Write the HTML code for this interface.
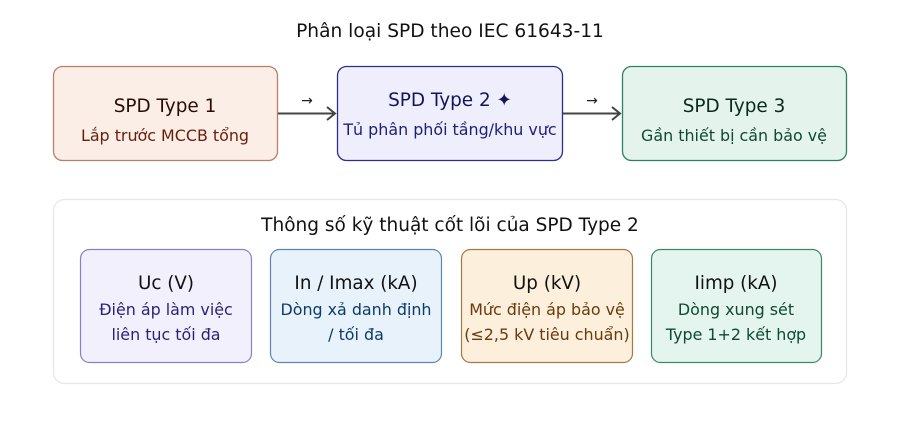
<!DOCTYPE html>
<html><head><meta charset="utf-8"><style>
html,body{margin:0;padding:0;background:#fff;}
svg{display:block;font-family:"DejaVu Sans","Liberation Sans",sans-serif;}
</style></head><body>
<svg width="900" height="424" viewBox="0 0 900 424" xmlns="http://www.w3.org/2000/svg">
<text x="450" y="37" text-anchor="middle" font-size="18.6" fill="#111">Phân loại SPD theo IEC 61643-11</text>

<rect x="53.5" y="66.5" width="224" height="94" rx="9" fill="#fbeee6" stroke="#b8806a" stroke-width="1.3"/>
<text x="165" y="112" text-anchor="middle" font-size="18.4" fill="#2a0e06">SPD Type 1</text>
<text x="165" y="141" text-anchor="middle" font-size="15.9" fill="#6a1e0a">Lắp trước MCCB tổng</text>

<rect x="337.5" y="66.5" width="225" height="94" rx="9" fill="#eeeefc" stroke="#2e2e88" stroke-width="1.3"/>
<text x="450" y="106" text-anchor="middle" font-size="18.4" fill="#14145a">SPD Type 2 ✦</text>
<text x="450" y="135" text-anchor="middle" font-size="15.9" fill="#1e1e7a">Tủ phân phối tầng/khu vực</text>

<rect x="622.5" y="66.5" width="224" height="94" rx="9" fill="#e4f4ec" stroke="#2e8060" stroke-width="1.3"/>
<text x="734" y="112" text-anchor="middle" font-size="18.4" fill="#0a2a1c">SPD Type 3</text>
<text x="734" y="141" text-anchor="middle" font-size="15.9" fill="#0d4a30">Gần thiết bị cần bảo vệ</text>

<g stroke="#444" stroke-width="2" fill="none">
<line x1="278" y1="113.5" x2="335" y2="113.5"/><polyline points="327,107 335,113.5 327,120"/>
<line x1="563" y1="113.5" x2="620" y2="113.5"/><polyline points="612,107 620,113.5 612,120"/>
</g>
<text x="307" y="105" text-anchor="middle" font-size="14" fill="#222">→</text>
<text x="592" y="105" text-anchor="middle" font-size="14" fill="#222">→</text>

<rect x="53.5" y="199.5" width="793" height="184" rx="11" fill="#fff" stroke="#e6e6e6" stroke-width="1.2"/>
<text x="450" y="231" text-anchor="middle" font-size="18.5" fill="#111">Thông số kỹ thuật cốt lõi của SPD Type 2</text>

<rect x="80.5" y="249.5" width="171" height="113" rx="9" fill="#f1f0fc" stroke="#8a80c8" stroke-width="1.2"/>
<text x="166" y="289" text-anchor="middle" font-size="18.3" fill="#111">Uc (V)</text>
<text x="166" y="315" text-anchor="middle" font-size="15.9" fill="#2a1f7a">Điện áp làm việc</text>
<text x="166" y="340" text-anchor="middle" font-size="15.9" fill="#2a1f7a">liên tục tối đa</text>

<rect x="270.5" y="249.5" width="171" height="113" rx="9" fill="#e8f2fb" stroke="#5a88b0" stroke-width="1.2"/>
<text x="356" y="289" text-anchor="middle" font-size="18.3" fill="#111">In / Imax (kA)</text>
<text x="356" y="315" text-anchor="middle" font-size="15.9" fill="#0d3a6a">Dòng xả danh định</text>
<text x="356" y="340" text-anchor="middle" font-size="15.9" fill="#0d3a6a">/ tối đa</text>

<rect x="461.5" y="249.5" width="171" height="113" rx="9" fill="#fcefdc" stroke="#a07a48" stroke-width="1.2"/>
<text x="547" y="289" text-anchor="middle" font-size="18.3" fill="#111">Up (kV)</text>
<text x="547" y="315" text-anchor="middle" font-size="15.9" fill="#6a3a0a">Mức điện áp bảo vệ</text>
<text x="547" y="340" text-anchor="middle" font-size="15.9" fill="#6a3a0a">(≤2,5 kV tiêu chuẩn)</text>

<rect x="651.5" y="249.5" width="170" height="113" rx="9" fill="#e4f4ee" stroke="#3a8a68" stroke-width="1.2"/>
<text x="736" y="289" text-anchor="middle" font-size="18.3" fill="#111">Iimp (kA)</text>
<text x="736" y="315" text-anchor="middle" font-size="15.9" fill="#0d4a30">Dòng xung sét</text>
<text x="736" y="340" text-anchor="middle" font-size="15.9" fill="#0d4a30">Type 1+2 kết hợp</text>
</svg>
</body></html>
